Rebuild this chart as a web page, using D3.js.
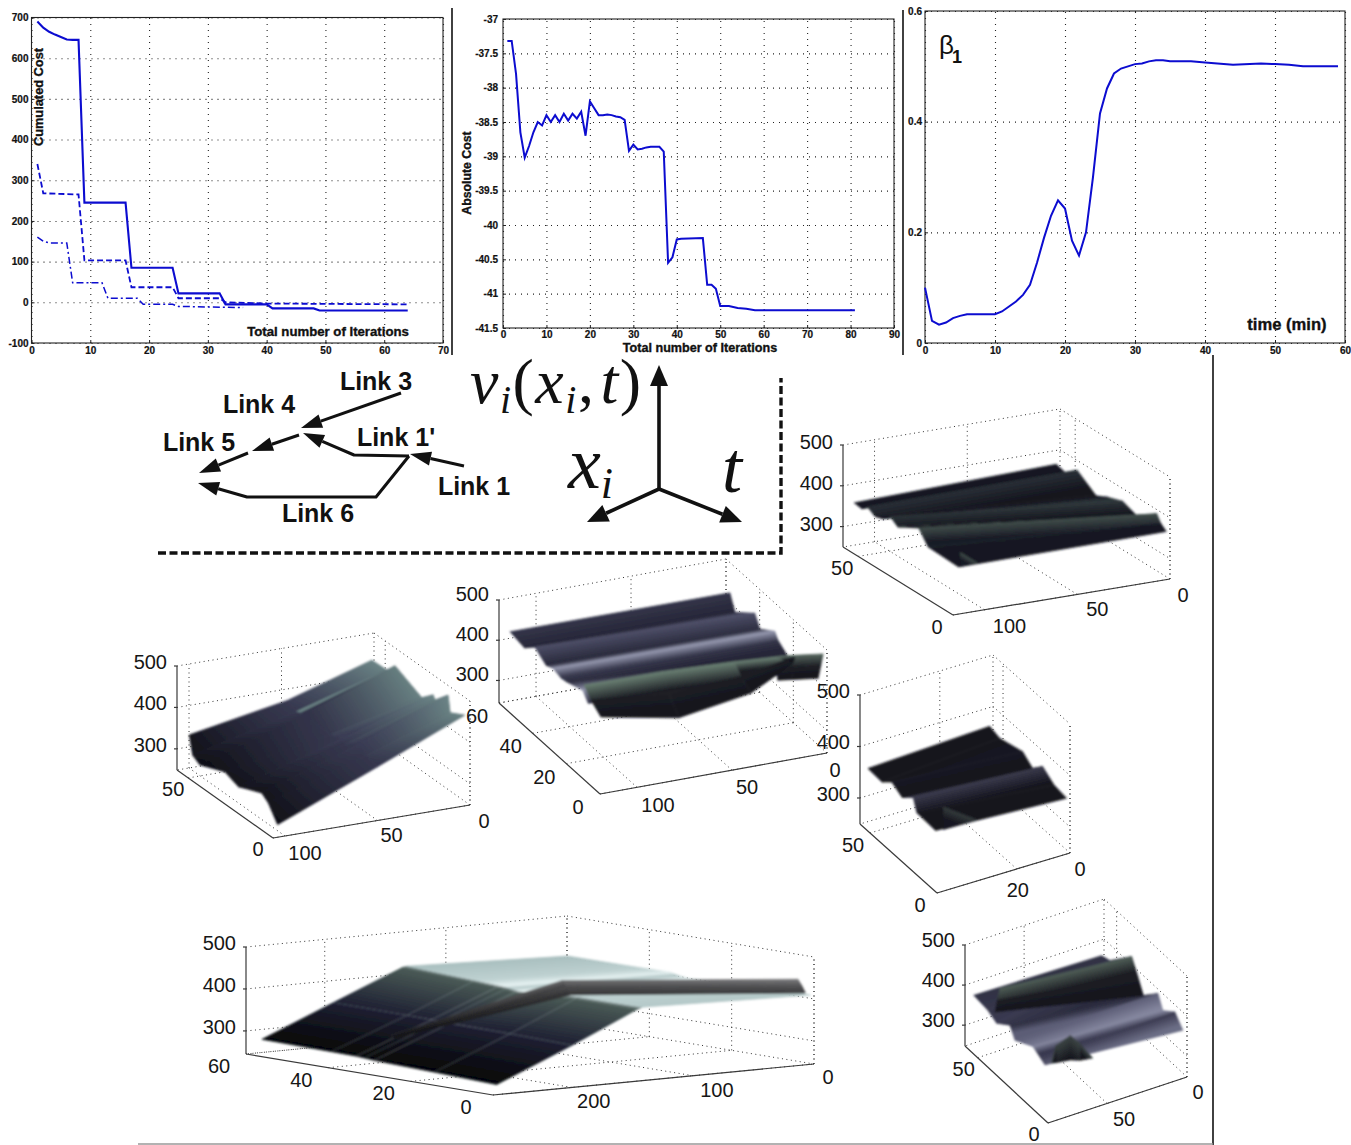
<!DOCTYPE html>
<html>
<head>
<meta charset="utf-8">
<script src="https://cdnjs.cloudflare.com/ajax/libs/d3/7.8.5/d3.min.js"></script>
<style>
  html, body { margin: 0; background: #fff; }
  svg { display: block; font-family: "Liberation Sans", Arial, sans-serif; }
  .tickbold text { font-size: 10px; font-weight: bold; fill: #111; stroke: #111; stroke-width: 0.2; font-family: "Liberation Sans", Arial, sans-serif; }
  .title { font-weight: bold; fill: #111; stroke: #111; stroke-width: 0.35; }
  .link { font-size: 25px; font-weight: bold; fill: #111; text-anchor: middle; }
  .math { font-family: "Liberation Serif", serif; font-style: italic; fill: #111; }
  .lab3d { font-size: 20px; fill: #161616; }
</style>
</head>
<body>
<div id="chart"></div>
<script>
// top row, iteration plots
const costX      = [1, 2, 3, 4, 5, 6, 7, 8, 9, 16, 17, 24, 25, 32, 33, 40, 41, 48, 49, 64];
const costTotal  = [690, 675, 665, 658, 652, 646, 645, 645, 245, 245, 85, 85, 22, 22, -5, -5, -15, -15, -20, -20];
const costDashX  = [1, 2, 8, 9, 16, 17, 24, 25, 32, 33, 40, 64];
const costDash   = [340, 268, 265, 103, 103, 37, 37, 10, 10, 0, -3, -5];
const costDotX   = [1, 2, 3, 6, 7, 12, 13, 18, 19, 24, 25, 36];
const costDot    = [160, 150, 146, 146, 48, 48, 10, 10, -5, -5, -10, -13];

const absX = [1,2,3,4,5,6,7,8,9,10,11,12,13,14,15,16,17,18,19,20,21,22,23,24,25,26,27,28,29,30,31,32,33,34,36,37,38,39,40,41,46,47,48,49,50,52,54,56,58,81];
const absCost = [-37.32,-37.32,-37.8,-38.65,-39.02,-38.85,-38.65,-38.5,-38.55,-38.4,-38.5,-38.4,-38.5,-38.38,-38.48,-38.38,-38.45,-38.35,-38.7,-38.2,-38.3,-38.4,-38.4,-38.39,-38.4,-38.42,-38.43,-38.47,-38.92,-38.83,-38.9,-38.89,-38.87,-38.86,-38.86,-38.93,-40.55,-40.47,-40.21,-40.2,-40.19,-40.87,-40.87,-40.93,-41.18,-41.18,-41.21,-41.22,-41.24,-41.24];

const betaX = [0,1,2,3,4,5,6,10,11,12,13,14,15,16,17,18,19,20,21,22,23,24,25,26,27,28,29,30,31,32,33,34,35,38,40,44,48,50,52,54,59];
const beta  = [0.1,0.04,0.033,0.037,0.045,0.049,0.052,0.052,0.057,0.066,0.075,0.087,0.105,0.145,0.19,0.23,0.258,0.243,0.185,0.158,0.2,0.3,0.415,0.46,0.487,0.496,0.5,0.504,0.505,0.509,0.511,0.511,0.509,0.509,0.507,0.503,0.505,0.504,0.503,0.5,0.5];

const costXTicks = [0,10,20,30,40,50,60,70];
const costYTicks = [-100,0,100,200,300,400,500,600,700];
const absXTicks  = [0,10,20,30,40,50,60,70,80,90];
const absYTicks  = [-41.5,-41,-40.5,-40,-39.5,-39,-38.5,-38,-37.5,-37];
const betaXTicks = [0,10,20,30,40,50,60];
const betaYTicks = [0,0.2,0.4,0.6];

// surfaces: each section is a cut across the ridges, [position on the short floor axis, speed]
const s1Far   = [[58,366],[53,359],[47,383],[37,349],[31,363],[23,376],[15,361],[5,397],[3,380],[0,368]];
const s1Near  = [[56,361],[52,358],[49,371],[45,359],[41,365],[37,382],[33,368],[22,397],[17,365],[1,362]];
const s1BumpA = [[0,368],[0,368]];
const s1BumpB = [[0,400],[0,366]];

const s2Far  = [[54.6,442],[45.8,444],[40.9,468],[25.2,437],[18.5,463],[17.4,454],[9.7,488],[8.5,449],[0,468]];
const s2Mid  = [[53,385],[48,372],[43,380],[28,375],[21,385],[19,378],[9.5,408],[7,385],[0,379]];
const s2Near = [[52,345],[50,302],[45.8,291],[31,317],[23,304],[20,310],[9.3,329],[5.4,316],[0,280]];

const s3Far   = [[54.3,440],[51.3,403],[39.5,445],[36.5,417],[27.6,445],[25.8,430],[20.4,413],[12,430],[8,420]];
const s3Near  = [[58.5,423],[50,415],[43.7,440],[37,420],[33,428],[28,422],[25,425],[15.2,440],[12,420]];
const s3LobeA = [[10,477],[6,455],[0,435]];
const s3LobeB = [[10,475],[6,437],[0,398]];
const s3LobeC = [[10,467],[6,446],[0,427]];
const s3LobeD = [[10,460],[5,471],[0,482]];
const s3LobeE = [[10,457],[9.5,455],[9,453]];
const s3TailA = [[0,492],[1.5,456],[3,420]];
const s3TailB = [[0,502],[0,472],[0,442]];
const s3TailC = [[0,496],[0,472],[0,447]];

const s4Far   = [[58,362],[50.6,356],[33.4,370],[26,355],[18.4,376],[10,360],[0.6,356]];
const s4Near  = [[55.5,359],[45,357],[37.7,374],[30,362],[21.7,381],[19,358],[5,356]];
const s4BumpA = [[0,368],[0,368]];
const s4BumpB = [[0,413],[0,369]];

const s5Far   = [[59.6,358],[53.7,365],[38.3,425],[30,355],[19.6,394],[16,363],[7.5,387],[1.8,360]];
const s5Near  = [[55,385],[45,380],[38.7,368],[29.3,394],[25.7,368],[13,394],[8,384],[4.4,376]];
const s5WaveA = [[38.3,425],[34,390],[30,355]];
const s5WaveB = [[42,438],[44,402],[45.6,367]];
const s5BumpA = [[0,373],[0,373]];
const s5BumpB = [[0,420],[0,378]];
const s5BumpC = [[0,448],[0,387]];
const s5BumpD = [[0,435],[0,392]];
const s5BumpE = [[0,395],[0,395]];

const s6Far    = [[59,407],[40,408],[34,409],[32,404],[29.6,402],[15,412],[0,410]];
const s6TopA   = [[57,425],[40,418],[34,415],[32,413],[29.6,410],[15,420],[0,420]];
const s6TopB   = [[57,423],[40,416],[34,413],[32,411],[29.6,408],[15,416],[0,416]];
const s6Slope  = [[58,352],[40,351],[34,350],[32,350],[29.6,349],[15,348],[0,345]];
const s6Near   = [[57,284],[40,282],[34,281],[32,280],[29.6,278],[15,274],[0,269]];
const s6RailA  = [[3,443],[2,428],[1.2,413]];
const s6RailB  = [[19.4,452],[18.3,436],[17.3,421]];
const s6RailC  = [[32,328],[31.7,325],[31.5,322]];

// styles of the surfaces, kept apart from the values
const rampNavy  = ["#11121a", "#1e1f2c", "#343f3f", "#505f58"];
const rampSteel = ["#0c0c12", "#35364c", "#6a6d85"];
const rampLilac = ["#1c1c2c", "#4c4d66", "#9a9db4"];
const rampInk   = ["#111118", "#1c1c28", "#45455a"];
const rampLeaf  = ["#14141c", "#272a2e", "#6a8073"];
const rampIce   = ["#2c3038", "#7f9c9c", "#e8f4f4"];
const rampRail  = ["#303032", "#505052", "#7a7a7c"];

const shade1 = [.2,.12,.5,.08,.2,.55,.08,.8,.2,.12];
const shade2 = [.5,.45,.3,.4,.55,.4,.55,.4,.4];
const shade3 = [.25,.1,.5,.15,.95,.25,.1,.9,.25];
const shade4 = [.15,.08,.3,.1,.85,.15,.08];
const shade5 = [.2,.25,.3,.15,.6,.85,.3,.7];
const shade6 = [.7,.8,.98,.75,.98,.8,.75];

const panels = [
  { front:[953,615], left:[843,547], right:[1170,579], top:445, uMax:58, wMax:117, vMin:250, zDy:4,
    zTicks:[300,400,500], uTicks:[0,50], wTicks:[0,50,100], uOff:[-16,12], wOff:[[13,16],[20,15],[25,16]],
    surfaces:[
      { w:[2,113], sec:[s1Far,s1Near], shade:shade1, ramp:rampNavy },
      { w:[104,113], sec:[s1BumpA,s1BumpB], shade:[.8,.2], ramp:rampNavy }
    ]},
  { front:[273,838], left:[177,770], right:[470,805], top:666, uMax:56.6, wMax:106.5, vMin:249, zDy:3,
    zTicks:[300,400,500], uTicks:[0,50], wTicks:[0,50,100], uOff:[-15,11], wOff:[[14,16],[14,15],[20,17]],
    surfaces:[
      { w:[3,50,104], sec:[s2Far,s2Mid,s2Near], shade:shade2, ramp:rampSteel,
        wash:[["#7c9c98",.75],["#3a3c55",.6],["#0c0c12",.85]] }
    ]},
  { front:[600,794], left:[499,703], right:[827,753], top:600, uMax:60, wMax:119.5, vMin:244, zDy:1,
    zTicks:[300,400,500], uTicks:[0,20,40,60], wTicks:[0,50,100], uOff:[-22,13], wOff:[[8,17],[15,17],[21,18]],
    surfaces:[
      { w:[3,115], sec:[s3Far,s3Near], shade:shade3, ramp:rampLilac },
      { w:[2,18,26], sec:[s3TailA,s3TailB,s3TailC], shade:[.85,.2,0], ramp:rampLeaf },
      { w:[9,18,40,78,119], sec:[s3LobeE,s3LobeD,s3LobeC,s3LobeB,s3LobeA], shade:[1,.22,0], ramp:rampLeaf }
    ]},
  { front:[937,893], left:[860,824], right:[1070,853], top:695, uMax:57.5, wMax:50, vMin:249.5, zDy:3,
    zTicks:[300,400,500], uTicks:[0,50], wTicks:[0,20], uOff:[-17,12], wOff:[[10,16],[1,21]],
    surfaces:[
      { w:[1,48], sec:[s4Far,s4Near], shade:shade4, ramp:rampInk },
      { w:[35,47.6], sec:[s4BumpA,s4BumpB], shade:[.6,.1], ramp:rampLeaf }
    ]},
  { front:[1048,1123], left:[965,1046], right:[1187,1077], top:945, uMax:59, wMax:87, vMin:248, zDy:2,
    zTicks:[300,400,500], uTicks:[0,50], wTicks:[0,50], uOff:[-14,11], wOff:[[11,15],[17,16]],
    surfaces:[
      { w:[1,85], sec:[s5Far,s5Near], shade:shade5, ramp:rampLilac },
      { w:[1,80], sec:[s5WaveA,s5WaveB], shade:[.8,.2,0], ramp:rampLeaf },
      { w:[59,67,73,82,85], sec:[s5BumpA,s5BumpB,s5BumpC,s5BumpD,s5BumpE], shade:[.65,.08], ramp:rampLeaf }
    ]},
  { front:[493,1095], left:[246,1054], right:[814,1064], top:947, uMax:60, wMax:265, vMin:245, zDy:3,
    zTicks:[300,400,500], uTicks:[0,20,40,60], wTicks:[0,100,200], uOff:[-27,12], wOff:[[14,13],[24,14],[22,14]],
    surfaces:[
      { w:[3,142,146,200,262], sec:[s6Far,s6TopA,s6TopB,s6Slope,s6Near], shade:shade6, ramp:rampIce,
        wash:[["#000",0],["#000",0],["#4a5a56",1],["#1e2032",1],["#050507",1]] },
      { w:[3,142,240], sec:[s6RailA,s6RailB,s6RailC], shade:[1,.5,.2], ramp:rampRail,
        wash:[["#000",0],["#000",.1],["#08080c",.9]] }
    ]}
];

// road network sketch
const links = [
  { label:"Link 3",  at:[376,381], path:[[401,393],[301,428]] },
  { label:"Link 4",  at:[259,404], path:[[299,435],[252,451]] },
  { label:"Link 5",  at:[199,442], path:[[248,453],[199,473]] },
  { label:"Link 1'", at:[396,437], path:[[409,456],[354,455],[303,433]] },
  { label:"Link 1",  at:[474,486], path:[[464,466],[410,454]] },
  { label:"Link 6",  at:[318,513], path:[[409,456],[376,497],[247,497],[198,483]] }
];
const axes3 = [
  [[659,489],[659,365]],
  [[659,489],[587,522]],
  [[659,489],[742,522]]
];

const svg = d3.select("#chart").append("svg").attr("width", 1351).attr("height", 1145);
const defs = svg.append("defs");
defs.append("filter").attr("id", "soft")
  .attr("x", "-5%").attr("y", "-5%").attr("width", "110%").attr("height", "110%")
  .append("feGaussianBlur").attr("stdDeviation", 0.8);

function plot2d(o) {
  const x = d3.scaleLinear().domain(o.xDomain).range([o.box[0], o.box[2]]);
  const y = d3.scaleLinear().domain(o.yDomain).range([o.box[3], o.box[1]]);
  const w = o.box[2] - o.box[0], h = o.box[3] - o.box[1];

  const grid = svg.append("g").attr("fill", "none");
  grid.append("g").attr("transform", `translate(0,${o.box[3]})`)
    .call(d3.axisBottom(x).tickValues(o.xTicks).tickSize(-h).tickFormat(""));
  grid.append("g").attr("transform", `translate(${o.box[0]},0)`)
    .call(d3.axisLeft(y).tickValues(o.yTicks).tickSize(-w).tickFormat(""));
  grid.selectAll(".domain").remove();
  grid.selectAll("line").attr("stroke", "#222").attr("stroke-width", 1.1).attr("stroke-dasharray", "1 5");

  svg.append("rect").attr("x", o.box[0]).attr("y", o.box[1]).attr("width", w).attr("height", h)
    .attr("fill", "none").attr("stroke", "#222").attr("stroke-width", 1.1);

  const xa = svg.append("g").attr("class", "tickbold").attr("transform", `translate(0,${o.box[3]})`)
    .call(d3.axisBottom(x).tickValues(o.xTicks).tickSize(-3).tickSizeOuter(0).tickPadding(o.padX).tickFormat(String));
  const ya = svg.append("g").attr("class", "tickbold").attr("transform", `translate(${o.box[0]},0)`)
    .call(d3.axisLeft(y).tickValues(o.yTicks).tickSize(-3).tickSizeOuter(0).tickPadding(o.padY).tickFormat(String));
  xa.select(".domain").remove();
  ya.select(".domain").remove();
  xa.selectAll("line").attr("stroke", "#222");
  ya.selectAll("line").attr("stroke", "#222");

  const line = d3.line().x(d => x(d[0])).y(d => y(d[1]));
  o.series.forEach(s => {
    svg.append("path").datum(d3.zip(s.x, s.y)).attr("d", line)
      .attr("fill", "none").attr("stroke", "#0c0cd0").attr("stroke-width", s.width || 2)
      .attr("stroke-dasharray", s.dash || null);
  });
}

plot2d({ box:[31.5,17.5,443,343], xDomain:[0,70], yDomain:[-100,700], xTicks:costXTicks, yTicks:costYTicks, padX:4, padY:3,
  series:[ {x:costX, y:costTotal, width:2.1}, {x:costDashX, y:costDash, dash:"6 3", width:1.8}, {x:costDotX, y:costDot, dash:"7 3 2 3", width:1.5} ] });
plot2d({ box:[503,19,894,328], xDomain:[0,90], yDomain:[-41.5,-37], xTicks:absXTicks, yTicks:absYTicks, padX:3, padY:5,
  series:[ {x:absX, y:absCost} ] });
plot2d({ box:[925,11,1345,343], xDomain:[0,60], yDomain:[0,0.6], xTicks:betaXTicks, yTicks:betaYTicks, padX:4, padY:3,
  series:[ {x:betaX, y:beta} ] });

svg.append("text").attr("class", "title").attr("font-size", 12.8).attr("text-anchor", "middle")
  .attr("transform", "translate(43,97) rotate(-90)").text("Cumulated Cost");
svg.append("text").attr("class", "title").attr("font-size", 13.2).attr("text-anchor", "middle")
  .attr("x", 328).attr("y", 336).text("Total number of Iterations");
svg.append("text").attr("class", "title").attr("font-size", 12.3).attr("text-anchor", "middle")
  .attr("transform", "translate(471,173) rotate(-90)").text("Absolute Cost");
svg.append("text").attr("class", "title").attr("font-size", 12.6).attr("text-anchor", "middle")
  .attr("x", 700).attr("y", 352).text("Total number of Iterations");
svg.append("text").attr("class", "title").attr("font-size", 16.6).attr("text-anchor", "middle")
  .attr("x", 1287).attr("y", 330).text("time (min)");
svg.append("text").attr("font-size", 26).attr("fill", "#111").attr("x", 939).attr("y", 54).text("β");
svg.append("text").attr("font-size", 18).attr("font-weight", "bold").attr("fill", "#111").attr("x", 952).attr("y", 63).text("1");

// frame lines between the plots
const rules = [ [[452,8],[452,355]], [[903,10],[903,355]], [[1213,355],[1213,1145]] ];
rules.forEach(r => svg.append("path").attr("d", d3.line()(r)).attr("stroke", "#111").attr("stroke-width", 1.6));
svg.append("path").attr("d", d3.line()([[138,1144],[1213,1144]])).attr("stroke", "#999").attr("stroke-width", 1.4);

// the sketch: links, arrow heads and the dashed frame
svg.append("path").attr("d", d3.line()([[158,553],[781,553],[781,378]]))
  .attr("fill", "none").attr("stroke", "#111").attr("stroke-width", 3.4).attr("stroke-dasharray", "8 3.5");

function arrow(pts, width, len, half) {
  const n = pts.length, tip = pts[n - 1], prev = pts[n - 2];
  const a = Math.atan2(tip[1] - prev[1], tip[0] - prev[0]);
  const ax = Math.cos(a), ay = Math.sin(a);
  const base = [tip[0] - ax * len, tip[1] - ay * len];
  const shaft = pts.slice(0, n - 1).concat([base]);
  svg.append("path").attr("d", d3.line()(shaft)).attr("fill", "none")
    .attr("stroke", "#111").attr("stroke-width", width).attr("stroke-linejoin", "round");
  const head = [tip, [base[0] - ay * half, base[1] + ax * half], [base[0] + ay * half, base[1] - ax * half]];
  svg.append("path").attr("d", d3.line()(head) + "Z").attr("fill", "#111");
}
links.forEach(l => {
  arrow(l.path, 3, 21, 7);
  svg.append("text").attr("class", "link").attr("x", l.at[0]).attr("y", l.at[1] + 9).text(l.label);
});
axes3.forEach(a => arrow(a, 3.6, 21, 9));

const mathV = svg.append("text").attr("class", "math").attr("x", 470).attr("y", 403).attr("font-size", 64).attr("letter-spacing", 1.5);
mathV.append("tspan").text("v");
mathV.append("tspan").attr("font-size", 40).attr("dy", 10).text("i");
mathV.append("tspan").attr("dy", -10).attr("font-style", "normal").text("(");
mathV.append("tspan").text("x");
mathV.append("tspan").attr("font-size", 40).attr("dy", 10).text("i");
mathV.append("tspan").attr("dy", -10).attr("font-style", "normal").text(",");
mathV.append("tspan").attr("dx", 5).text("t");
mathV.append("tspan").attr("font-style", "normal").text(")");
const mathX = svg.append("text").attr("class", "math").attr("x", 568).attr("y", 488).attr("font-size", 74);
mathX.append("tspan").text("x");
mathX.append("tspan").attr("font-size", 44).attr("dy", 10).text("i");
svg.append("text").attr("class", "math").attr("x", 722).attr("y", 492).attr("font-size", 72).text("t");

// 3d panels: surfaces are painted back to front through three scales
let gradId = 0;
function bandGradient(p1, p2, stops) {
  const id = "g" + (gradId++);
  const g = defs.append("linearGradient").attr("id", id).attr("gradientUnits", "userSpaceOnUse")
    .attr("x1", p1[0]).attr("y1", p1[1]).attr("x2", p2[0]).attr("y2", p2[1]);
  stops.forEach((s, i) => g.append("stop").attr("offset", i).attr("stop-color", s[0]).attr("stop-opacity", s[1]));
  return `url(#${id})`;
}
const mid = (a, b) => [(a[0] + b[0]) / 2, (a[1] + b[1]) / 2];
// end point of a gradient whose colour bands stay parallel to the direction dir
function across(from, to, dir) {
  const len = Math.hypot(dir[0], dir[1]);
  if (len < 1e-6) return to;
  const nx = -dir[1] / len, ny = dir[0] / len;
  const k = (to[0] - from[0]) * nx + (to[1] - from[1]) * ny;
  if (Math.abs(k) < 1e-3) return to;
  return [from[0] + nx * k, from[1] + ny * k];
}

function drawPanel(p) {
  const uX = d3.scaleLinear().domain([0, p.uMax]).range([0, p.left[0] - p.front[0]]);
  const uY = d3.scaleLinear().domain([0, p.uMax]).range([0, p.left[1] - p.front[1]]);
  const wX = d3.scaleLinear().domain([p.wMax, 0]).range([0, p.right[0] - p.front[0]]);
  const wY = d3.scaleLinear().domain([p.wMax, 0]).range([0, p.right[1] - p.front[1]]);
  const vY = d3.scaleLinear().domain([p.vMin, 500]).range([0, p.top - p.left[1]]);
  const proj = (u, w, v) => [p.front[0] + uX(u) + wX(w), p.front[1] + uY(u) + wY(w) + vY(v)];
  const seg = (g, a, b) => g.append("path").attr("d", d3.line()([a, b]));

  // walls and floor
  const grid = svg.append("g").attr("fill", "none").attr("stroke", "#333").attr("stroke-width", 1).attr("stroke-dasharray", "1 3.5");
  p.zTicks.forEach(z => {
    seg(grid, proj(p.uMax, p.wMax, z), proj(p.uMax, 0, z));
    seg(grid, proj(p.uMax, 0, z), proj(0, 0, z));
  });
  p.wTicks.forEach(w => {
    seg(grid, proj(p.uMax, w, p.vMin), proj(p.uMax, w, 500));
    seg(grid, proj(0, w, p.vMin), proj(p.uMax, w, p.vMin));
  });
  p.uTicks.forEach(u => {
    seg(grid, proj(u, 0, p.vMin), proj(u, 0, 500));
    seg(grid, proj(u, p.wMax, p.vMin), proj(u, 0, p.vMin));
  });
  seg(grid, proj(0, 0, p.vMin), proj(0, 0, 500));
  seg(grid, proj(p.uMax, 0, p.vMin), proj(p.uMax, p.wMax, p.vMin));

  // axes in front
  const ax = svg.append("g").attr("fill", "none").attr("stroke", "#3a3a3a").attr("stroke-width", 1.2);
  seg(ax, proj(p.uMax, p.wMax, p.vMin), proj(p.uMax, p.wMax, 500));
  seg(ax, proj(p.uMax, p.wMax, p.vMin), proj(0, p.wMax, p.vMin));
  seg(ax, proj(0, p.wMax, p.vMin), proj(0, 0, p.vMin));
  p.zTicks.forEach(z => {
    const t = proj(p.uMax, p.wMax, z);
    seg(ax, t, [t[0] - 3, t[1]]);
    svg.append("text").attr("class", "lab3d").attr("text-anchor", "end").attr("x", t[0] - 10).attr("y", t[1] + p.zDy).text(z);
  });
  p.uTicks.forEach(u => {
    const t = proj(u, p.wMax, p.vMin);
    svg.append("text").attr("class", "lab3d").attr("text-anchor", "middle")
      .attr("x", t[0] + p.uOff[0]).attr("y", t[1] + p.uOff[1] + 7).text(u);
  });
  p.wTicks.forEach((w, i) => {
    const t = proj(0, w, p.vMin);
    svg.append("text").attr("class", "lab3d").attr("text-anchor", "middle")
      .attr("x", t[0] + p.wOff[i][0]).attr("y", t[1] + p.wOff[i][1] + 7).text(w);
  });

  // surfaces
  const sg = svg.append("g").attr("filter", "url(#soft)");
  p.surfaces.forEach(s => {
    const color = d3.piecewise(d3.interpolateRgb, s.ramp);
    const pt = (k, i) => proj(s.sec[k][i][0], s.w[k], s.sec[k][i][1]);
    const rows = s.sec[0].length;
    for (let i = 0; i < rows - 1; i++) {
      for (let k = 0; k < s.sec.length - 1; k++) {
        const A = pt(k, i), B = pt(k + 1, i), C = pt(k + 1, i + 1), D = pt(k, i + 1);
        const outline = d3.line()([A, B, C, D]) + "Z";
        const m1 = mid(A, B), m2 = mid(D, C);
        const dir = [B[0] - A[0], B[1] - A[1]];
        const fill = bandGradient(m1, across(m1, m2, dir),
          [[color(s.shade[i]), 1], [color(s.shade[i + 1]), 1]]);
        sg.append("path").attr("d", outline).attr("fill", fill).attr("stroke", fill).attr("stroke-width", 0.7);
        if (s.wash) {
          const w1 = mid(A, D), w2 = mid(B, C);
          const wfill = bandGradient(w1, across(w1, w2, [D[0] - A[0], D[1] - A[1]]), [s.wash[k], s.wash[k + 1]]);
          sg.append("path").attr("d", outline).attr("fill", wfill).attr("stroke", wfill).attr("stroke-width", 0.7);
        }
      }
    }
  });
}
panels.forEach(drawPanel);
</script>
</body>
</html>
